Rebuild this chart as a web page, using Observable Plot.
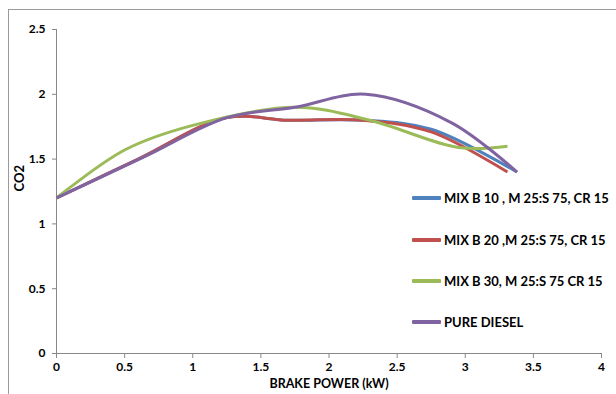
<!DOCTYPE html>
<html>
<head>
<meta charset="utf-8">
<script src="https://cdn.jsdelivr.net/npm/d3@7"></script>
<script src="https://cdn.jsdelivr.net/npm/@observablehq/plot@0.6"></script>
<style>
  html, body { margin: 0; padding: 0; background: #fff; }
  #wrap { position: relative; width: 616px; height: 394px; overflow: hidden; font-family: Lato, "Open Sans", sans-serif; }
  #border { position: absolute; left: 8px; top: 9px; width: 620px; height: 400px; border-left: 1px solid #9a9a9a; border-top: 1px solid #9a9a9a; pointer-events: none; }
  #legend { position: absolute; left: 412px; top: 0; }
  .row { position: absolute; left: 0; display: flex; align-items: center; white-space: nowrap; font-weight: bold; font-size: 13px; color: #000; height: 16px; }
  .sw { width: 29px; height: 3.5px; margin-right: 3px; border-radius: 1px; }
</style>
</head>
<body>
<div id="wrap"><div id="border"></div><div id="legend"></div></div>
<script>
// ---- data ----
const seriesNames = [
  "MIX B 10 , M 25:S 75, CR 15",
  "MIX B 20 ,M 25:S 75, CR 15",
  "MIX B 30, M 25:S 75 CR 15",
  "PURE DIESEL"
];
const seriesColors = ["#4F81BD", "#C0504D", "#9BBB59", "#8064A2"];

const powerB10 = [0, 0.6, 1.25, 1.7, 2.25, 2.75, 3.38];
const co2B10   = [1.2, 1.5, 1.82, 1.8, 1.8, 1.73, 1.4];

const powerB20 = [0, 0.6, 1.25, 1.7, 2.25, 2.75, 3.31];
const co2B20   = [1.2, 1.5, 1.82, 1.8, 1.8, 1.71, 1.4];

const powerB30 = [0, 0.5, 1.0, 1.75, 2.3, 2.95, 3.31];
const co2B30   = [1.2, 1.57, 1.76, 1.9, 1.8, 1.59, 1.6];

const powerDiesel = [0, 0.65, 1.25, 1.75, 2.27, 2.9, 3.38];
const co2Diesel   = [1.2, 1.52, 1.82, 1.9, 2.0, 1.78, 1.4];

const xTicks = [0, 0.5, 1, 1.5, 2, 2.5, 3, 3.5, 4];
const yTicks = [0, 0.5, 1, 1.5, 2, 2.5];
const xLabel = "BRAKE POWER (kW)";
const yLabel = "CO2";

// ---- build table ----
const xs = [powerB10, powerB20, powerB30, powerDiesel];
const ys = [co2B10, co2B20, co2B30, co2Diesel];
const data = [];
seriesNames.forEach((name, i) => {
  xs[i].forEach((x, j) => data.push({series: name, x, y: ys[i][j]}));
});

const axisColor = "#888888";
const chart = Plot.plot({
  width: 616,
  height: 394,
  marginLeft: 56,
  marginRight: 15,
  marginTop: 29,
  marginBottom: 41,
  style: {fontFamily: "Lato, 'Open Sans', sans-serif", fontSize: "12px", fontWeight: "bold", color: "#000", background: "transparent"},
  x: {domain: [0, 4], ticks: xTicks, tickFormat: d => String(d)},
  y: {domain: [0, 2.5], ticks: yTicks, tickFormat: d => String(d)},
  color: {domain: seriesNames, range: seriesColors},
  marks: [
    Plot.axisX({ticks: xTicks, tickFormat: d => String(d), tickSize: 5, tickPadding: 4, stroke: axisColor, fill: "#000", label: null}),
    Plot.axisY({ticks: yTicks, tickFormat: d => String(d), tickSize: 4, tickPadding: 7, stroke: axisColor, fill: "#000", label: null}),
    Plot.text([xLabel], {frameAnchor: "bottom", dy: 34, fontSize: 12.5, fontWeight: "bold", fill: "#000"}),
    Plot.text([yLabel], {frameAnchor: "left", dx: -37, rotate: -90, fontSize: 13, fontWeight: "bold", fill: "#000"}),
    Plot.ruleX([0], {stroke: axisColor, strokeWidth: 1}),
    Plot.ruleY([0], {stroke: axisColor, strokeWidth: 1}),
    Plot.line(data, {x: "x", y: "y", z: "series", stroke: "series", strokeWidth: 3, curve: "catmull-rom", strokeLinecap: "butt"})
  ]
});
document.getElementById("wrap").prepend(chart);

// ---- legend ----
const legend = document.getElementById("legend");
const rowCenters = [198, 240, 281, 322];
seriesNames.forEach((name, i) => {
  const row = document.createElement("div");
  row.className = "row";
  row.style.top = (rowCenters[i] - 8) + "px";
  const sw = document.createElement("div");
  sw.className = "sw";
  sw.style.background = seriesColors[i];
  const t = document.createElement("span");
  t.textContent = name;
  row.append(sw, t);
  legend.append(row);
});
</script>
</body>
</html>
